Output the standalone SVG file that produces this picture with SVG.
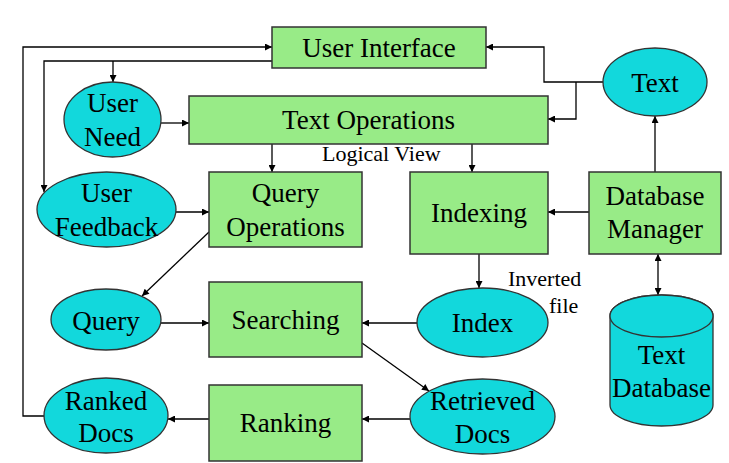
<svg xmlns="http://www.w3.org/2000/svg" width="729" height="463" viewBox="0 0 729 463">
<defs>
<marker id="ah" viewBox="0 0 10 10" refX="10" refY="5" markerWidth="9" markerHeight="7" markerUnits="userSpaceOnUse" orient="auto-start-reverse">
<path d="M0,0 L10,5 L0,10 z" fill="#000"/>
</marker>
<style>
.box{fill:#98EB87;stroke:#333;stroke-width:1.5}
.ell{fill:#12D8DC;stroke:#333;stroke-width:1.3}
.lbl{font-family:"Liberation Serif","Times New Roman",serif;font-size:27px;fill:#000;text-anchor:middle}
.sm{font-family:"Liberation Serif","Times New Roman",serif;font-size:22px;fill:#000}
.c{fill:none;stroke:#000;stroke-width:1.3}
.a{marker-end:url(#ah)}
</style>
</defs>
<rect width="729" height="463" fill="#fff"/>

<g id="connectors">
<polyline class="c a" points="44,416 23,416 23,47 272,47"/>
<polyline class="c a" points="272,61 44,61 44,192"/>
<polyline class="c a" points="113,61 113,82"/>
<line class="c a" x1="161" y1="123" x2="189" y2="123"/>
<line class="c a" x1="176" y1="212" x2="209" y2="212"/>
<line class="c a" x1="272" y1="144" x2="272" y2="172"/>
<line class="c a" x1="472" y1="144" x2="472" y2="172"/>
<polyline class="c a" points="603,82 544,82 544,47 486,47"/>
<polyline class="c a" points="576,82 576,119 548,119"/>
<line class="c a" x1="655" y1="172" x2="655" y2="116"/>
<line class="c a" x1="589" y1="212" x2="548" y2="212"/>
<line class="c a" x1="479" y1="254" x2="479" y2="288"/>
<line class="c a" x1="658" y1="254" x2="658" y2="295" style="marker-start:url(#ah)"/>
<line class="c a" x1="417" y1="323" x2="362" y2="323"/>
<line class="c a" x1="161" y1="323" x2="209" y2="323"/>
<line class="c a" x1="209" y1="232" x2="142" y2="296"/>
<line class="c a" x1="362" y1="343" x2="429" y2="391"/>
<line class="c a" x1="410" y1="419" x2="362" y2="419"/>
<line class="c a" x1="209" y1="419" x2="168" y2="419"/>
</g>

<g id="user-interface">
<rect class="box" x="272" y="27" width="214" height="41"/>
<text class="lbl" x="379" y="57">User Interface</text>
</g>
<g id="text-operations">
<rect class="box" x="189" y="96" width="359" height="48"/>
<text class="lbl" x="368.5" y="129">Text Operations</text>
</g>
<g id="logical-view">
<text class="sm" x="322" y="161">Logical View</text>
</g>
<g id="query-operations">
<rect class="box" x="209" y="172" width="153" height="75"/>
<text class="lbl" x="285.5" y="202">Query</text>
<text class="lbl" x="285.5" y="236">Operations</text>
</g>
<g id="indexing">
<rect class="box" x="410" y="172" width="138" height="82"/>
<text class="lbl" x="479" y="222">Indexing</text>
</g>
<g id="database-manager">
<rect class="box" x="589" y="172" width="132" height="82"/>
<text class="lbl" x="655" y="205">Database</text>
<text class="lbl" x="655" y="238">Manager</text>
</g>
<g id="searching">
<rect class="box" x="209" y="282" width="153" height="75"/>
<text class="lbl" x="285.5" y="329">Searching</text>
</g>
<g id="ranking">
<rect class="box" x="209" y="385" width="153" height="76"/>
<text class="lbl" x="285.5" y="432">Ranking</text>
</g>

<g id="user-need">
<ellipse class="ell" cx="112.5" cy="119.5" rx="48.5" ry="37.5"/>
<text class="lbl" x="112.5" y="112">User</text>
<text class="lbl" x="112.5" y="146">Need</text>
</g>
<g id="user-feedback">
<ellipse class="ell" cx="106.5" cy="209.5" rx="69.5" ry="37.5"/>
<text class="lbl" x="106.5" y="202">User</text>
<text class="lbl" x="106.5" y="236">Feedback</text>
</g>
<g id="text">
<ellipse class="ell" cx="655" cy="82" rx="52" ry="34"/>
<text class="lbl" x="655" y="92">Text</text>
</g>
<g id="query">
<ellipse class="ell" cx="106" cy="319.5" rx="55" ry="30.5"/>
<text class="lbl" x="106" y="330">Query</text>
</g>
<g id="index">
<ellipse class="ell" cx="482.5" cy="322.5" rx="65.5" ry="34.5"/>
<text class="lbl" x="482.5" y="332">Index</text>
</g>
<g id="inverted-file">
<text class="sm" x="508" y="286">Inverted</text>
<text class="sm" x="549" y="313">file</text>
</g>
<g id="ranked-docs">
<ellipse class="ell" cx="106" cy="415.5" rx="62" ry="37.5"/>
<text class="lbl" x="106" y="410">Ranked</text>
<text class="lbl" x="106" y="442">Docs</text>
</g>
<g id="retrieved-docs">
<ellipse class="ell" cx="482.5" cy="416.5" rx="72.5" ry="37.5"/>
<text class="lbl" x="482.5" y="410">Retrieved</text>
<text class="lbl" x="482.5" y="443">Docs</text>
</g>
<g id="text-database">
<path class="ell" d="M610,316 L610,405 A51.5,21 0 0 0 713,405 L713,316 A51.5,21 0 0 0 610,316 z"/>
<ellipse class="ell" cx="661.5" cy="316" rx="51.5" ry="21"/>
<text class="lbl" x="661.5" y="364">Text</text>
<text class="lbl" x="661.5" y="397">Database</text>
</g>
</svg>
